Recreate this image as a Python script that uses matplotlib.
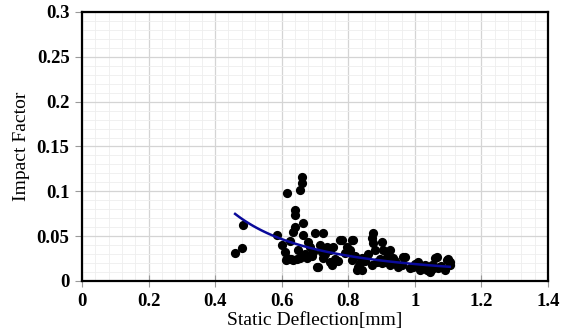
import numpy as np
import matplotlib
matplotlib.use('Agg')
import matplotlib.pyplot as plt
from matplotlib.ticker import AutoMinorLocator

# static deflection [mm] and impact factor
defl = [0.46, 0.48, 0.484, 0.586, 0.601, 0.610, 0.616, 0.616, 0.634, 0.634,
        0.640, 0.640, 0.640, 0.655, 0.661, 0.661, 0.664, 0.664, 0.655, 0.676,
        0.685, 0.694, 0.700, 0.715, 0.724, 0.724, 0.736, 0.745, 0.754, 0.775,
        0.706, 0.745, 0.790, 0.796, 0.613, 0.619, 0.628, 0.646, 0.709, 0.751,
        0.805, 0.811, 0.826, 0.781, 0.814, 0.799, 0.811, 0.829, 0.841, 0.874,
        0.871, 0.874, 0.901, 0.880, 0.904, 0.925, 0.916, 0.934, 0.901, 0.871,
        0.925, 0.949, 0.964, 0.886, 0.835, 0.994, 1.009, 1.015, 1.030, 1.036,
        1.045, 1.051, 1.066, 1.060, 1.075, 1.090, 1.096, 1.105, 1.105, 1.000,
        1.024, 0.970, 1.060, 1.100, 0.670, 0.690, 0.730, 0.760, 0.820, 0.850,
        0.860, 0.895, 0.940, 0.960, 0.985, 1.020, 1.040, 1.080, 0.625, 0.650,
        0.680, 0.720, 0.770, 0.840, 0.910, 1.050, 1.070]
impact = [0.031, 0.037, 0.062, 0.051, 0.040, 0.032, 0.026, 0.098, 0.023, 0.055,
          0.079, 0.074, 0.060, 0.026, 0.116, 0.109, 0.065, 0.051, 0.101, 0.026,
          0.038, 0.032, 0.053, 0.040, 0.053, 0.026, 0.038, 0.035, 0.038, 0.046,
          0.016, 0.021, 0.031, 0.038, 0.023, 0.025, 0.024, 0.025, 0.016, 0.018,
          0.035, 0.046, 0.012, 0.046, 0.046, 0.035, 0.023, 0.016, 0.012, 0.053,
          0.048, 0.042, 0.044, 0.035, 0.035, 0.035, 0.027, 0.026, 0.020, 0.018,
          0.018, 0.016, 0.027, 0.021, 0.020, 0.016, 0.021, 0.012, 0.018, 0.012,
          0.010, 0.018, 0.027, 0.016, 0.016, 0.012, 0.023, 0.021, 0.018, 0.019,
          0.015, 0.027, 0.026, 0.024, 0.030, 0.028, 0.030, 0.025, 0.028, 0.022,
          0.030, 0.024, 0.022, 0.018, 0.014, 0.014, 0.015, 0.017, 0.045, 0.035,
          0.043, 0.032, 0.022, 0.026, 0.021, 0.013, 0.014]

# power trendline y = a * x^b, coefficients
trend_a = 0.0189
trend_b = -1.772

xticks = [0, 0.2, 0.4, 0.6, 0.8, 1.0, 1.2, 1.4]
xtick_labels = ['0', '0.2', '0.4', '0.6', '0.8', '1', '1.2', '1.4']
yticks = [0, 0.05, 0.1, 0.15, 0.2, 0.25, 0.3]
ytick_labels = ['0', '0.05', '0.1', '0.15', '0.2', '0.25', '0.3']

xfit = np.linspace(min(defl), max(defl), 100)
yfit = trend_a * xfit ** trend_b

plt.rcParams['font.family'] = ['Liberation Serif', 'DejaVu Serif']

fig = plt.figure(figsize=(5.66, 3.36), dpi=100)
ax = fig.add_axes([0.1449, 0.1637, 0.8233, 0.8006])

ax.scatter(defl, impact, s=44, color='black', zorder=3, linewidths=0)
ax.plot(xfit, yfit, color='#0a0a9a', lw=1.8, zorder=4)

ax.set_xticks(xticks, xtick_labels, fontweight='bold', fontsize=13.5)
ax.set_yticks(yticks, ytick_labels, fontweight='bold', fontsize=13.5)
ax.set_xlim(0, 1.4)
ax.set_ylim(0, 0.3)
ax.xaxis.set_minor_locator(AutoMinorLocator(5))
ax.yaxis.set_minor_locator(AutoMinorLocator(5))
ax.grid(which='major', color='#d4d4d4', lw=0.9)
ax.grid(which='minor', color='#eeeeee', lw=0.6)
ax.set_axisbelow(True)

for s in ax.spines.values():
    s.set_color('black')
    s.set_linewidth(1.6)

ax.tick_params(axis='y', which='major', direction='out', length=5, color='#999999', pad=4)
ax.tick_params(axis='x', which='major', direction='inout', length=8, color='#999999', pad=5)
ax.tick_params(which='minor', length=0)

ax.set_xlabel('Static Deflection[mm]', fontsize=14, labelpad=1)
ax.set_ylabel('Impact Factor', fontsize=14, labelpad=5)

fig.savefig('out.png', dpi=100)
